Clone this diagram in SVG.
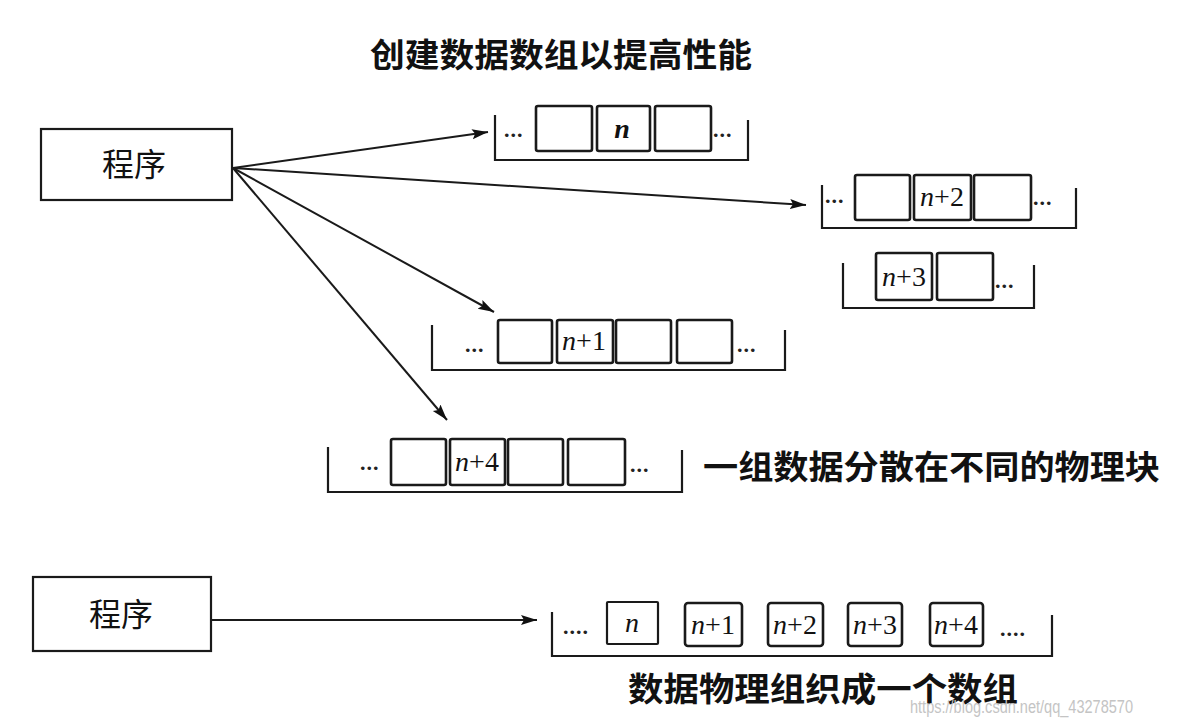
<svg xmlns="http://www.w3.org/2000/svg" width="1187" height="722" viewBox="0 0 1187 722">
<defs>
<marker id="ah" markerUnits="userSpaceOnUse" markerWidth="18" markerHeight="12" refX="16" refY="6" orient="auto">
<path d="M0,1 L16,6 L0,11 L3,6 Z" fill="#111"/>
</marker>
<style>
.box{fill:#fff;stroke:#1a1a1a;stroke-width:2.2}
.cell{fill:#fff;stroke:#1a1a1a;stroke-width:2.6}
.br{fill:none;stroke:#1a1a1a;stroke-width:2.2}
.con{fill:none;stroke:#1a1a1a;stroke-width:2}
.cn{font-family:"Noto Sans CJK SC",sans-serif;fill:#111}
.prog{font-size:32px;text-anchor:middle}
.lab{font-size:33px;font-weight:bold}
.v{font-family:"Liberation Serif",serif;font-size:28px;fill:#111;text-anchor:middle}
.v tspan.i{font-style:italic}
.dots{font-family:"Liberation Serif",serif;font-size:22px;font-weight:bold;fill:#222;letter-spacing:1px}
.wm{font-family:"Liberation Sans",sans-serif;font-size:18px;fill:#c4c4c4}
</style>
</defs>
<rect width="1187" height="722" fill="#fff"/>

<text class="cn lab" x="370" y="67" textLength="382" lengthAdjust="spacingAndGlyphs">创建数据数组以提高性能</text>

<g id="prog1">
<rect class="box" x="41" y="129" width="191" height="71"/>
<text class="cn prog" x="134" y="176">程序</text>
</g>

<g id="prog2">
<rect class="box" x="33" y="577" width="178" height="74"/>
<text class="cn prog" x="121" y="626">程序</text>
</g>

<g id="block1">
<path class="br" d="M495,115 V160 H748 V120"/>
<text class="dots" x="504" y="137">...</text>
<rect class="cell" x="536" y="106" width="56" height="45" rx="2"/>
<rect class="cell" x="597" y="106" width="53" height="45" rx="2"/>
<text class="v" x="622" y="138" font-weight="bold"><tspan class="i">n</tspan></text>
<rect class="cell" x="655" y="106" width="56" height="45" rx="2"/>
<text class="dots" x="713" y="137">...</text>
</g>

<g id="block2">
<path class="br" d="M822,185 V228 H1076 V188"/>
<text class="dots" x="825" y="203">...</text>
<rect class="cell" x="855" y="175" width="55" height="45" rx="2"/>
<rect class="cell" x="914" y="175" width="57" height="45" rx="2"/>
<text class="v" x="942" y="206"><tspan class="i">n</tspan>+2</text>
<rect class="cell" x="974" y="175" width="57" height="45" rx="2"/>
<text class="dots" x="1033" y="205">...</text>
</g>

<g id="block3">
<path class="br" d="M843,263 V308 H1034 V265"/>
<rect class="cell" x="876" y="253" width="56" height="47" rx="2"/>
<text class="v" x="904" y="286"><tspan class="i">n</tspan>+3</text>
<rect class="cell" x="937" y="253" width="56" height="47" rx="2"/>
<text class="dots" x="995" y="288">...</text>
</g>

<g id="block4">
<path class="br" d="M432,325 V370 H785 V330"/>
<text class="dots" x="465" y="352">...</text>
<rect class="cell" x="498" y="320" width="54" height="43" rx="2"/>
<rect class="cell" x="557" y="320" width="56" height="43" rx="2"/>
<text class="v" x="584" y="350"><tspan class="i">n</tspan>+1</text>
<rect class="cell" x="616" y="320" width="55" height="43" rx="2"/>
<rect class="cell" x="677" y="320" width="55" height="43" rx="2"/>
<text class="dots" x="737" y="352">...</text>
</g>

<g id="block5">
<path class="br" d="M328,447 V492 H682 V450"/>
<text class="dots" x="360" y="470">...</text>
<rect class="cell" x="391" y="439" width="55" height="46" rx="2"/>
<rect class="cell" x="450" y="439" width="55" height="46" rx="2"/>
<text class="v" x="477" y="471"><tspan class="i">n</tspan>+4</text>
<rect class="cell" x="508" y="439" width="55" height="46" rx="2"/>
<rect class="cell" x="568" y="439" width="57" height="46" rx="2"/>
<text class="dots" x="630" y="472">...</text>
</g>

<text class="cn lab" x="703" y="479" textLength="457" lengthAdjust="spacingAndGlyphs">一组数据分散在不同的物理块</text>

<g id="block6">
<path class="br" d="M552,612 V656 H1052 V615"/>
<text class="dots" x="563" y="634">....</text>
<rect class="cell" x="607" y="602" width="51" height="42" rx="1" style="stroke-width:2.2"/>
<text class="v" x="632" y="632"><tspan class="i">n</tspan></text>
<rect class="cell" x="685" y="603" width="57" height="43" rx="3"/>
<text class="v" x="713" y="634"><tspan class="i">n</tspan>+1</text>
<rect class="cell" x="768" y="603" width="55" height="43" rx="3"/>
<text class="v" x="795" y="634"><tspan class="i">n</tspan>+2</text>
<rect class="cell" x="848" y="603" width="54" height="43" rx="3"/>
<text class="v" x="875" y="634"><tspan class="i">n</tspan>+3</text>
<rect class="cell" x="930" y="603" width="53" height="43" rx="3"/>
<text class="v" x="956" y="634"><tspan class="i">n</tspan>+4</text>
<text class="dots" x="1000" y="636">....</text>
</g>

<text class="cn lab" x="628" y="701" textLength="390" lengthAdjust="spacingAndGlyphs">数据物理组织成一个数组</text>

<g id="connectors">
<line class="con" x1="233" y1="168" x2="488" y2="132" marker-end="url(#ah)"/>
<line class="con" x1="233" y1="168" x2="806" y2="205" marker-end="url(#ah)"/>
<line class="con" x1="233" y1="168" x2="494" y2="312" marker-end="url(#ah)"/>
<line class="con" x1="233" y1="168" x2="447" y2="420" marker-end="url(#ah)"/>
<line class="con" x1="211" y1="620" x2="537" y2="620" marker-end="url(#ah)"/>
</g>

<text class="wm" x="910" y="713" textLength="223" lengthAdjust="spacingAndGlyphs">https://blog.csdn.net/qq_43278570</text>
</svg>
